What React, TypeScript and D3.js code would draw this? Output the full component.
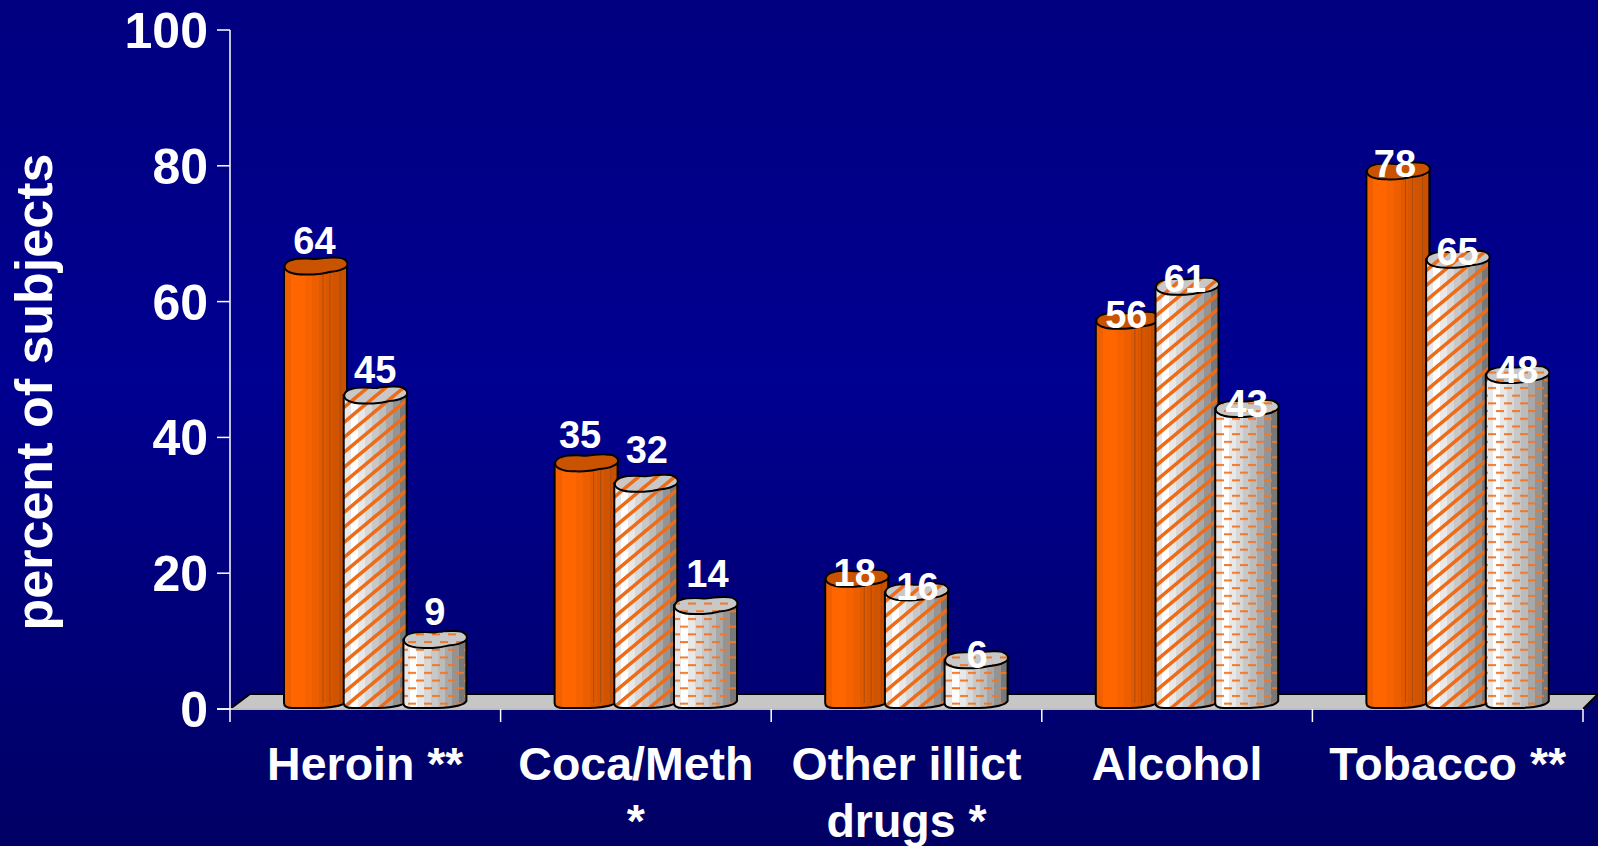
import React from "react";
import * as d3 from "d3";

const categories = [["Heroin **"], ["Coca/Meth", "*"], ["Other illict", "drugs *"], ["Alcohol"], ["Tobacco **"]];
const seriesA = [64, 35, 18, 56, 78];
const seriesB = [45, 32, 16, 61, 65];
const seriesC = [9, 14, 6, 43, 48];
const yTicks = [0, 20, 40, 60, 80, 100];
const yTitle = "percent of subjects";
const labelLift = [
  [34, 37, 14, 14, 16],
  [34, 42, 14, 16, 16],
  [37, 41, 14, 14, 14],
];
const labelShift = [
  [-1, -6, -2, -1, -3],
  [0, 1, 1, -2, 0],
  [0, 2, 1, 0, 0],
];

const W = 1598, H = 846;
const FONT = "'Liberation Sans', Arial, sans-serif";
const y = d3.scaleLinear().domain([0, 100]).range([709, 30]);
const x = d3.scaleLinear().domain([0, 5]).range([230, 1583]);
const barW = 63, barStep = 59.7, barOffset = 54;
const rimPts: [number, number][] = [[-31,1],[-29,-3.5],[-22,-6.5],[-10,-7.5],[0,-7],[8,-8],[18,-8.5],[27,-7.5],[31.5,-4],[31.5,0],[25,4],[12,6.5],[3,8],[-10,8.5],[-22,7.5],[-29,4.5]];
const rim = d3.line().curve(d3.curveCatmullRomClosed);
const orangeBands = ["#f06000","#ff6600","#ff6600","#f66200","#ec5e00","#e25a00","#d95600","#d05300","#c85000"];
const greyBands = ["#e8e8e8","#ffffff","#e8e8e8","#d8d8d8","#c8c8c8","#bcbcbc","#a8a8a8","#949494","#787878"];

function Bands({ id, colors }: { id: string; colors: string[] }) {
  return (
    <linearGradient id={id} x1="0" x2="1" y1="0" y2="0">
      {colors.flatMap((c, i) => [
        <stop key={i + "a"} offset={i / colors.length} stopColor={c} />,
        <stop key={i + "b"} offset={(i + 1) / colors.length} stopColor={c} />,
      ])}
    </linearGradient>
  );
}

function Cylinder({ x0, value, kind }: { x0: number; value: number; kind: number }) {
  const top = y(value) - 8.5;
  const cx = x0 + barW / 2;
  const base = y(0);
  const body = `M${x0},${top} L${x0},${base - 6} Q${x0},${base - 1} ${x0 + 9},${base - 1} L${x0 + barW * 0.55},${base - 1} Q${x0 + barW - 3},${base - 2} ${x0 + barW},${base - 8} L${x0 + barW},${top} Z`;
  const rimPath = rim(rimPts.map(([a, b]) => [cx + a, top + b]) as [number, number][]) || "";
  const fill = kind === 0 ? "url(#gOrange)" : "url(#gGrey)";
  const over = kind === 1 ? "url(#stripes)" : kind === 2 ? "url(#dashes)" : null;
  const capFill = kind === 0 ? "#c95300" : "#c8c8c8";
  return (
    <g>
      <path d={body} fill={fill} stroke="none" />
      {kind === 0 && [0.62, 0.73, 0.89].map((f) => (
        <line key={f} x1={x0 + barW * f} x2={x0 + barW * f} y1={top} y2={base - 6} stroke="#a84c10" strokeWidth={1} />
      ))}
      {over && <path d={body} fill={over} stroke="none" />}
      <path d={body} fill="none" stroke="#000" strokeWidth={2} />
      <path d={rimPath} fill={capFill} stroke="none" />
      {over && <path d={rimPath} fill={over} stroke="none" />}
      <path d={rimPath} fill="none" stroke="#000" strokeWidth={2} />
    </g>
  );
}

export default function App() {
  const series = [seriesA, seriesB, seriesC];
  return (
    <svg width={W} height={H} viewBox={`0 0 ${W} ${H}`} style={{ position: "fixed", left: 0, top: 0, display: "block" }} fontFamily={FONT} fontWeight="bold" fill="#fff">
      <defs>
        <linearGradient id="bg" x1="0" x2="0" y1="0" y2="1">
          <stop offset="0" stopColor="#000080" />
          <stop offset="0.45" stopColor="#000091" />
          <stop offset="1" stopColor="#000064" />
        </linearGradient>
        <Bands id="gOrange" colors={orangeBands} />
        <Bands id="gGrey" colors={greyBands} />
        <pattern id="stripes" patternUnits="userSpaceOnUse" width="18" height="15" patternTransform="translate(0 4)">
          <path d="M-18,15 L18,-15 M-18,30 L36,-15 M0,30 L36,0" stroke="#ee6c18" strokeWidth="3.6" fill="none" />
        </pattern>
        <pattern id="dashes" patternUnits="userSpaceOnUse" width="16" height="15.4">
          <rect x="0" y="2" width="8" height="2" fill="#f07828" />
          <rect x="8" y="9.7" width="8" height="2" fill="#f07828" />
        </pattern>
      </defs>
      <rect width={W} height={H} fill="url(#bg)" />

      <path d={`M${x(0)},${y(0)} L${x(0) + 20},${y(0) - 15} L${W},${y(0) - 15} L${x(5)},${y(0)} Z`} fill="#c6c6c6" stroke="#000" strokeWidth={2} />

      <g stroke="#fff" strokeWidth={1.5} fill="none">
        <line x1={x(0)} x2={x(0)} y1={y(100)} y2={y(0) + 13} />
        <line x1={x(0) - 13} x2={x(5)} y1={y(0)} y2={y(0)} />
        {yTicks.map((t) => <line key={t} x1={x(0) - 13} x2={x(0)} y1={y(t)} y2={y(t)} />)}
        {d3.range(1, 6).map((i) => <line key={i} x1={x(i)} x2={x(i)} y1={y(0)} y2={y(0) + 13} />)}
      </g>

      {categories.map((_, g) =>
        series.map((s, k) => (
          <Cylinder key={g + "-" + k} x0={x(g) + barOffset + k * barStep} value={s[g]} kind={k} />
        ))
      )}

      {categories.map((_, g) =>
        series.map((s, k) => (
          <text key={g + "-" + k} x={x(g) + barOffset + k * barStep + barW / 2 + labelShift[k][g]} y={y(s[g]) - labelLift[k][g]} dy="0.36em" textAnchor="middle" fontSize={38}>
            {s[g]}
          </text>
        ))
      )}

      {yTicks.map((t) => (
        <text key={t} x={x(0) - 22} y={y(t)} dy="0.36em" textAnchor="end" fontSize={50}>{t}</text>
      ))}

      {categories.map((lines, g) => (
        <text key={g} textAnchor="middle" fontSize={46.5}>
          {lines.map((l, i) => (
            <tspan key={i} x={x(g + 0.5)} y={780 + i * 57}>{l}</tspan>
          ))}
        </text>
      ))}

      <text transform={`translate(52,392) rotate(-90)`} textAnchor="middle" fontSize={52}>{yTitle}</text>
    </svg>
  );
}
